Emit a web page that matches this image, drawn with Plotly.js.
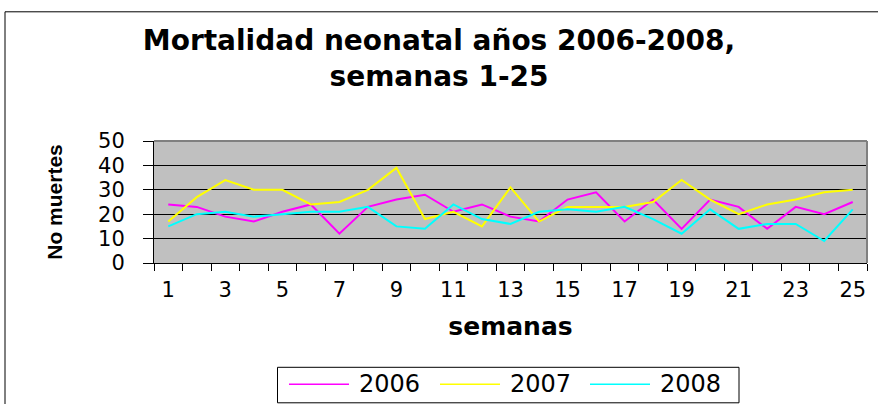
<!DOCTYPE html>
<html>
<head>
<meta charset="utf-8">
<script src="https://cdn.plot.ly/plotly-3.0.1.min.js"></script>
<style>html,body{margin:0;padding:0;background:#fff;}#chart{width:878px;height:404px;}</style>
</head>
<body>
<div id="chart"></div>
<script>
const weeks = [1,2,3,4,5,6,7,8,9,10,11,12,13,14,15,16,17,18,19,20,21,22,23,24,25];
const seriesNames = ["2006","2007","2008"];
const deaths2006 = [24,23,19,17,21,24,12,23,26,28,21,24,19,17,26,29,17,26,14,26,23,14,23,20,25];
const deaths2007 = [17,27,34,30,30,24,25,30,39,18,21,15,31,17,23,23,23,25,34,26,20,24,26,29,30];
const deaths2008 = [15,20,21,19,20,21,21,23,15,14,24,18,16,21,22,21,23,18,12,22,14,16,16,9,22];
const xLabelVals = [1,3,5,7,9,11,13,15,17,19,21,23,25];
const colors = ["#FF00FF","#FFFF00","#00FFFF"];

const L = 154, R = 867, T = 140.7, B = 262.7, W = 878, H = 404;
const px2x = p => (p - L) / (R - L);
const px2y = p => (B - p) / (B - T);
const FONT = "DejaVu Sans, sans-serif";

const allSeries = [deaths2006, deaths2007, deaths2008];
const traces = allSeries.map((s, i) => ({
  x: weeks, y: s, type: "scatter", mode: "lines", name: seriesNames[i],
  line: {color: colors[i], width: 2}, xaxis: "x", yaxis: "y", showlegend: false
}));
traces.push({x: [weeks[0]], y: [0], xaxis: "x2", yaxis: "y", mode: "markers",
  marker: {opacity: 0}, showlegend: false, hoverinfo: "skip"});

const boundaries = [];
for (let i = 0; i <= weeks.length; i++) boundaries.push(weeks[0] - 0.5 + i);

// custom legend (Excel style, long line samples)
const legLineX = [289, 440, 590];
const legShapes = [], legAnn = [];
seriesNames.forEach((n, i) => {
  legShapes.push({type: "line", xref: "paper", yref: "paper",
    x0: px2x(legLineX[i]), x1: px2x(legLineX[i] + 60), y0: px2y(384), y1: px2y(384),
    line: {color: colors[i], width: 1.5}});
  legAnn.push({xref: "paper", yref: "paper", x: px2x(legLineX[i] + 68), y: px2y(384),
    xanchor: "left", yanchor: "middle", showarrow: false, text: n,
    font: {family: FONT, size: 24, color: "#000"}});
});

const layout = {
  width: W, height: H,
  margin: {l: L, r: W - R, t: T, b: H - B},
  paper_bgcolor: "#ffffff",
  plot_bgcolor: "#C0C0C0",
  font: {family: FONT, color: "#000"},
  title: {
    text: "Mortalidad neonatal años 2006-2008,<br>semanas 1-25",
    font: {size: 28, family: FONT, weight: "bold"},
    x: 0.5, xref: "container", xanchor: "center",
    y: 1 - 50/H, yref: "container", yanchor: "middle"
  },
  showlegend: false,
  xaxis: {
    range: [0.5, 25.5], tickmode: "array", tickvals: boundaries, automargin: false,
    showticklabels: false, ticks: "outside", ticklen: 7, tickcolor: "#000", tickwidth: 1,
    showgrid: false, zeroline: false, showline: true, linecolor: "#000", linewidth: 1,
    fixedrange: true
  },
  xaxis2: {
    overlaying: "x", anchor: "y", side: "bottom", range: [0.5, 25.5], automargin: false,
    tickmode: "array", tickvals: xLabelVals, ticktext: xLabelVals.map(String),
    ticks: "", showgrid: false, zeroline: false, showline: false,
    tickfont: {size: 21, family: FONT}, ticklabelstandoff: 12,
    title: {text: "semanas", font: {size: 25, family: FONT, weight: "bold"}, standoff: 16}
  },
  yaxis: {
    range: [0, 50], tickmode: "array", tickvals: [0,10,20,30,40,50], automargin: false,
    ticks: "outside", ticklen: 10, tickcolor: "#000", tickwidth: 1,
    tickfont: {size: 21, family: FONT}, ticklabelstandoff: 14,
    showgrid: true, gridcolor: "#000", gridwidth: 1,
    zeroline: false, showline: true, linecolor: "#000", linewidth: 1,
    title: {text: "No muertes", font: {size: 21, family: "Liberation Sans, Arial, sans-serif", weight: "bold"}, standoff: 29}
  },
  annotations: legAnn,
  shapes: [
    {type: "line", xref: "paper", yref: "paper", x0: 0, x1: 1, y0: 1, y1: 1,
     line: {color: "#808080", width: 2}},
    {type: "line", xref: "paper", yref: "paper", x0: 1, x1: 1, y0: 0, y1: 1,
     line: {color: "#808080", width: 2}},
    {type: "rect", xref: "paper", yref: "paper", x0: px2x(5), x1: px2x(900),
     y0: px2y(420), y1: px2y(11.5), line: {color: "#000", width: 1}, layer: "below"},
    {type: "rect", xref: "paper", yref: "paper", x0: px2x(277.5), x1: px2x(739),
     y0: px2y(402.5), y1: px2y(367), line: {color: "#000", width: 1}, fillcolor: "#fff", layer: "below"}
  ].concat(legShapes)
};

Plotly.newPlot("chart", traces, layout, {displayModeBar: false, staticPlot: true});
</script>
</body>
</html>
